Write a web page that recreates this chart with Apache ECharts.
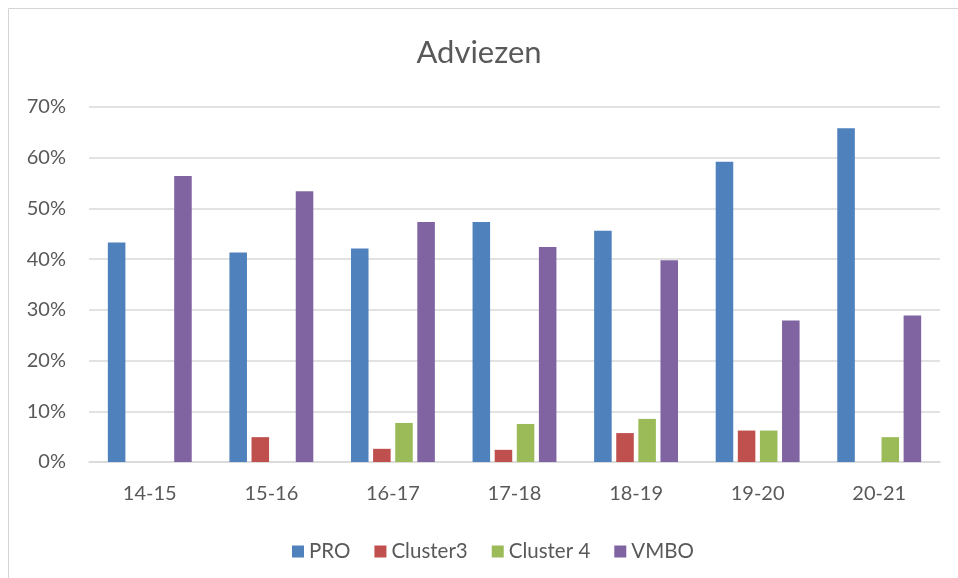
<!DOCTYPE html>
<html>
<head>
<meta charset="utf-8">
<script src="https://cdn.jsdelivr.net/npm/echarts@6/dist/echarts.min.js"></script>
<style>
html,body{margin:0;padding:0;background:#fff;}
#chart{width:958px;height:578px;}
</style>
</head>
<body>
<div id="chart"></div>
<script>
var categories = ['14-15','15-16','16-17','17-18','18-19','19-20','20-21'];
var proValues = [43.3, 41.3, 42.1, 47.3, 45.6, 59.2, 65.8];
var cluster3Values = [null, 4.9, 2.6, 2.4, 5.7, 6.2, null];
var cluster4Values = [null, null, 7.7, 7.5, 8.5, 6.2, 4.9];
var vmboValues = [56.4, 53.4, 47.3, 42.4, 39.8, 27.9, 28.9];
var seriesNames = ['PRO','Cluster3','Cluster 4','VMBO'];
var yTicks = {min: 0, max: 70, interval: 10};

var colors = ['#4F81BD','#C0504D','#9BBB59','#8064A2'];
var font = 'Lato, "Open Sans", sans-serif';
var textColor = '#595959';

var chart = echarts.init(document.getElementById('chart'), null, {renderer: 'canvas'});
var allValues = [proValues, cluster3Values, cluster4Values, vmboValues];
var series = seriesNames.map(function (name, i) {
  return {
    name: name,
    type: 'bar',
    data: allValues[i],
    barGap: '26%',
    barCategoryGap: '31%',
    itemStyle: {color: colors[i]}
  };
});

chart.setOption({
  animation: false,
  color: colors,
  title: {
    text: 'Adviezen',
    left: 'center',
    top: 32,
    textStyle: {fontFamily: font, fontSize: 31, fontWeight: 'normal', color: textColor}
  },
  graphic: [{
    type: 'rect',
    shape: {x: 8.5, y: 8.5, width: 1200, height: 1200},
    style: {fill: 'none', stroke: '#d4d4d4', lineWidth: 1},
    silent: true
  }],
  legend: {
    data: seriesNames,
    left: 287,
    top: 536,
    icon: 'rect',
    itemWidth: 12,
    itemHeight: 12,
    itemGap: 24,
    textStyle: {fontFamily: font, fontSize: 20.5, color: textColor}
  },
  grid: {left: 89, right: 18, top: 107, bottom: 116, containLabel: false},
  xAxis: {
    type: 'category',
    data: categories,
    axisLine: {lineStyle: {color: '#d9d9d9', width: 1.5}},
    axisTick: {show: false},
    axisLabel: {fontFamily: font, fontSize: 20, color: textColor, margin: 22}
  },
  yAxis: {
    type: 'value',
    min: yTicks.min,
    max: yTicks.max,
    interval: yTicks.interval,
    axisLine: {show: false},
    axisTick: {show: false},
    splitLine: {lineStyle: {color: '#d9d9d9', width: 1.5}},
    axisLabel: {fontFamily: font, fontSize: 20, color: textColor, margin: 23, formatter: '{value}%'}
  },
  series: series
});
</script>
</body>
</html>
